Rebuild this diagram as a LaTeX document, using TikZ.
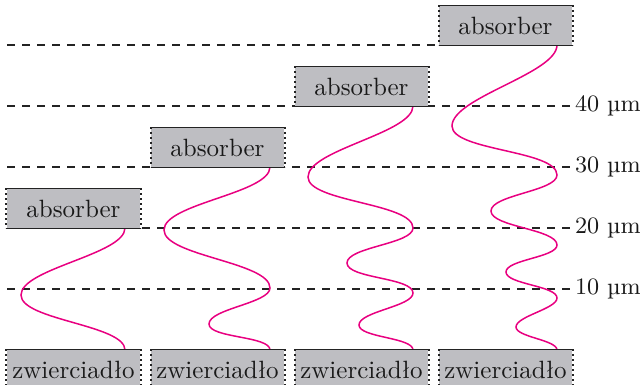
\documentclass[tikz,border=0pt]{standalone}
\usepackage{fontspec}
\usetikzlibrary{calc}
\definecolor{boxgray}{RGB}{190,190,194}
\definecolor{linedark}{RGB}{35,35,35}
\definecolor{wavemag}{RGB}{232,0,128}
\begin{document}
\begin{tikzpicture}[x=0.4pt,y=0.4pt,
  box/.style={fill=boxgray, minimum width=53.2pt, minimum height=15.6pt, inner sep=0pt, text=black!90},
  edge/.style={draw=linedark, line width=0.65pt},
  sideedge/.style={draw=linedark, line width=0.8pt, dash pattern=on 0.8pt off 1.2pt},
  level/.style={draw=linedark, line width=0.6pt, dashed},
  wave/.style={draw=wavemag, line width=0.6pt, out=90, in=-90, looseness=0.55},
  lab/.style={anchor=west, inner sep=1pt, text=black!90, font=\fontsize{9.4}{11}\selectfont}]
\useasboundingbox (0,0) rectangle (640,385);
% levels
\foreach \y/\n in {96/1,157/2,218/3,279/4,340/5}{
  \coordinate (l\n a) at (7,\y);
  \coordinate (l\n b) at (572,\y);
  \draw[level] (l\n a) -- (l\n b);
}
\node[lab] (t1) at (l1b) {10 µm};
\node[lab] (t2) at (l2b) {20 µm};
\node[lab] (t3) at (l3b) {30 µm};
\node[lab] (t4) at (l4b) {40 µm};
% waves
\coordinate (w1s) at (125,35);
\coordinate (w2s) at (270,35);
\coordinate (w3s) at (413,35);
\coordinate (w4s) at (557,35);
\draw[wave] (w1s) to (21,90) to (125,157);
\draw[wave] (w2s) to (209,61) to (270,97) to (164,155) to (270,218);
\draw[wave] (w3s) to (359,60) to (413,92) to (347,122) to (413,157) to (308,208) to (413,279);
\draw[wave] (w4s) to (516,58) to (557,87) to (506,113) to (557,140) to (491,174) to (557,210) to (452,259) to (557,340);
% boxes
\foreach \i/\cx/\ay in {1/73.5/176.5, 2/217.5/237.5, 3/361.5/298.5, 4/505.5/359.5}{
  \node[box] (m\i) at (\cx,15.5) {zwierciadło};
  \node[box] (a\i) at (\cx,\ay) {absorber};
  \foreach \n in {m\i,a\i}{
    \draw[edge] (\n.north west) -- (\n.north east);
    \draw[edge] (\n.south west) -- (\n.south east);
    \draw[sideedge] (\n.north west) -- (\n.south west);
    \draw[sideedge] (\n.north east) -- (\n.south east);
  }
}
\end{tikzpicture}
\end{document}
